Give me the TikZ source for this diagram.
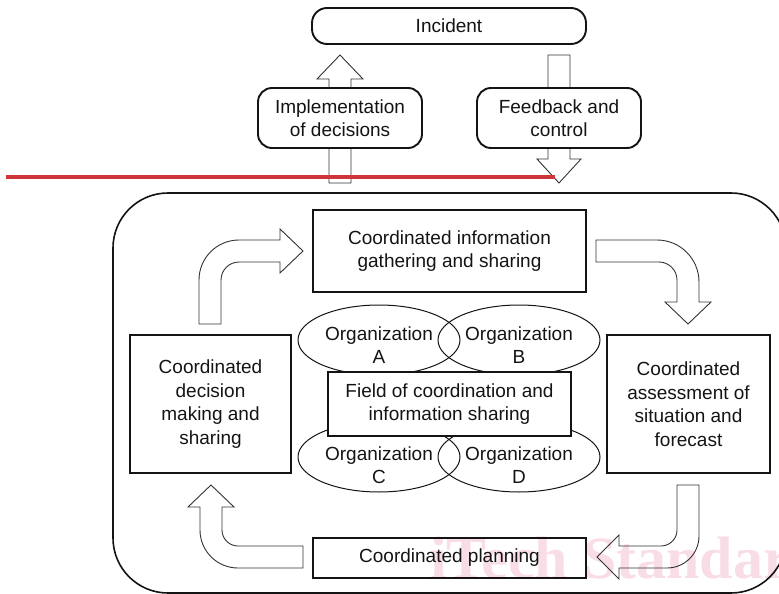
\documentclass[tikz,border=0pt]{standalone}
\usepackage{fontspec}
\setmainfont{Liberation Sans}
\newfontfamily\wmfont{Liberation Serif}
\usetikzlibrary{shapes.geometric,calc}
\definecolor{wmpink}{RGB}{249,221,230}
\definecolor{markred}{RGB}{206,52,56}
\definecolor{ink}{RGB}{20,20,20}
\begin{document}
\begin{tikzpicture}[x=1pt,y=-1pt,
  txt/.style={font=\fontsize{19}{23.5}\selectfont, text=ink, align=center, inner sep=0pt},
  sqbox/.style={txt, draw=ink, line width=1.9pt},
  rbox/.style={sqbox, fill=white, rounded corners=14pt},
  orgshape/.style={ellipse, draw=ink, line width=1pt, minimum width=162pt, minimum height=70pt, inner sep=0pt},
  barrow/.style={draw=black!80, line width=0.9pt, fill=white, line join=miter},
  watermark/.style={font=\wmfont\bfseries\fontsize{60}{60}\selectfont, text=wmpink, inner sep=0pt}
]
\useasboundingbox (0,0) rectangle (779,594);
\clip (0,0) rectangle (779,594);

% faint watermark behind the drawing
\node[watermark, anchor=base west] (wm) at (430,578) {iTech Standards};

% outer frame
\node[draw=ink, line width=1.6pt, rounded corners=55pt, minimum width=673pt, minimum height=400pt, inner sep=0pt] (frame) at (449.5,393) {};

% organizations
\node[orgshape] (orgA) at (379,340) {};
\node[orgshape] (orgB) at (519,340) {};
\node[orgshape] (orgC) at (379,457) {};
\node[orgshape] (orgD) at (519,457) {};
\node[txt] (labA) at ($(orgA)+(0,5)$) {Organization\\A};
\node[txt] (labB) at ($(orgB)+(0,5)$) {Organization\\B};
\node[txt] (labC) at ($(orgC)+(0,8)$) {Organization\\C};
\node[txt] (labD) at ($(orgD)+(0,8)$) {Organization\\D};

% central field
\node[sqbox, fill=white, minimum width=243pt, minimum height=64pt] (field) at (449.5,404) {Field of coordination and\\information sharing};

% cycle steps
\node[sqbox, minimum width=273pt, minimum height=82pt] (info) at (449.5,251) {Coordinated information\\gathering and sharing};
\node[sqbox, minimum width=161pt, minimum height=138pt] (decision) at (210.5,404) {Coordinated\\decision\\making and\\sharing};
\node[sqbox, minimum width=163pt, minimum height=138pt] (assess) at (688.5,404) {Coordinated\\assessment of\\situation and\\forecast};
\node[sqbox, minimum width=273pt, minimum height=40pt] (planning) at (449.5,558) {Coordinated planning};

% bent block arrows of the cycle
\draw[barrow] (199,324) -- (199,280) .. controls (199,257.9) and (216.9,240) .. (239,240) -- (280,240) -- (280,229) -- (303,251) -- (280,273) -- (280,262) -- (239,262) .. controls (229.1,262) and (221,270.1) .. (221,280) -- (221,324) -- cycle;
\draw[barrow] (596,240) -- (657,240) .. controls (680.2,240) and (699,258.8) .. (699,282) -- (699,302) -- (711,302) -- (688,324) -- (665,302) -- (677,302) -- (677,280) .. controls (677,270.1) and (668.9,262) .. (659,262) -- (596,262) -- cycle;
\draw[barrow, fill=none] (699,485) -- (699,536) .. controls (699,553.7) and (684.7,568) .. (667,568) -- (619,568) -- (619,579) -- (597,557) -- (619,535) -- (619,546) -- (661,546) .. controls (669.8,546) and (677,538.8) .. (677,530) -- (677,485) -- cycle;
\draw[barrow] (303,568) -- (238,568) .. controls (217,568) and (200,551) .. (200,530) -- (200,507) -- (188,507) -- (211,485) -- (234,507) -- (222,507) -- (222,530) .. controls (222,538.8) and (229.2,546) .. (238,546) -- (303,546) -- cycle;

% links to the incident
\draw[barrow] (329,183) -- (329,79) -- (317,79) -- (340,55) -- (363,79) -- (351,79) -- (351,183) -- cycle;
\draw[barrow] (548,55) -- (548,159) -- (537,159) -- (559,183) -- (581,159) -- (570,159) -- (570,55) -- cycle;

\node[rbox, minimum width=274pt, minimum height=36pt, rounded corners=15pt] (incident) at (449,26) {Incident};
\node[rbox, minimum width=164pt, minimum height=60pt] (impl) at (340,118) {Implementation\\of decisions};
\node[rbox, minimum width=164pt, minimum height=60pt] (feedback) at (559,118) {Feedback and\\control};

% red marker line
\draw[markred, line width=4pt] (6,177) -- (555,177);
\end{tikzpicture}
\end{document}
